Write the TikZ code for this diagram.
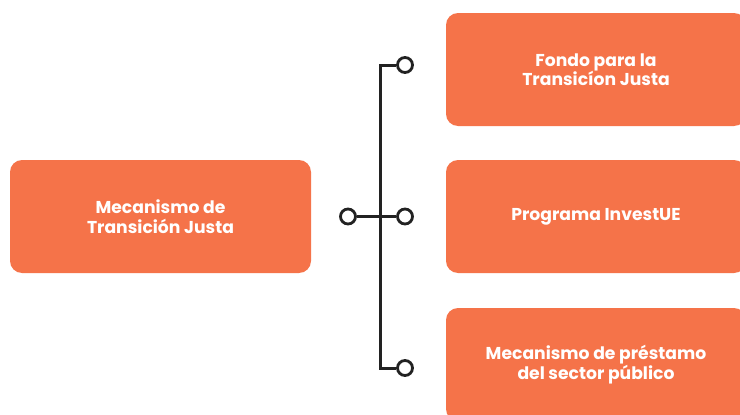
\documentclass[tikz,border=0pt]{standalone}
\usepackage{fontspec}
\setmainfont{Poppins}
\definecolor{boxorange}{HTML}{F57349}
\definecolor{linedark}{HTML}{222222}
\begin{document}
\begin{tikzpicture}[x=1pt,y=-1pt,
  box/.style={fill=boxorange, rounded corners=12pt, minimum width=#1, minimum height=113pt, inner sep=0pt,
    text=white, align=center, font=\fontsize{17.2}{19.5}\selectfont\bfseries},
  box/.default=301pt,
  dot/.style={circle, draw=linedark, line width=2.8pt, fill=white, minimum size=15pt, inner sep=0pt},
  wire/.style={draw=linedark, line width=3pt}]
\useasboundingbox (0,0) rectangle (740,415);
\node[box=301pt] (main) at (160.5,216.5) {Mecanismo de\\Transición Justa};
\node[box=300pt] (b1) at (596,69.5) {Fondo para la\\Transicíon Justa};
\node[box=300pt] (b2) at (596,216.5) {Programa InvestUE};
\node[box=300pt] (b3) at (596,364.5) {Mecanismo de préstamo\\del sector público};
\coordinate (jt) at (380,65);
\coordinate (jb) at (380,368);
\node[dot] (dl) at (348,216.5) {};
\node[dot] (dm) at (405,216.5) {};
\node[dot] (dt) at (405,65) {};
\node[dot] (db) at (405,368) {};
\draw[wire] (dl) -- (dm);
\draw[wire] (dt) -- (jt) -- (jb) -- (db);
\end{tikzpicture}
\end{document}
